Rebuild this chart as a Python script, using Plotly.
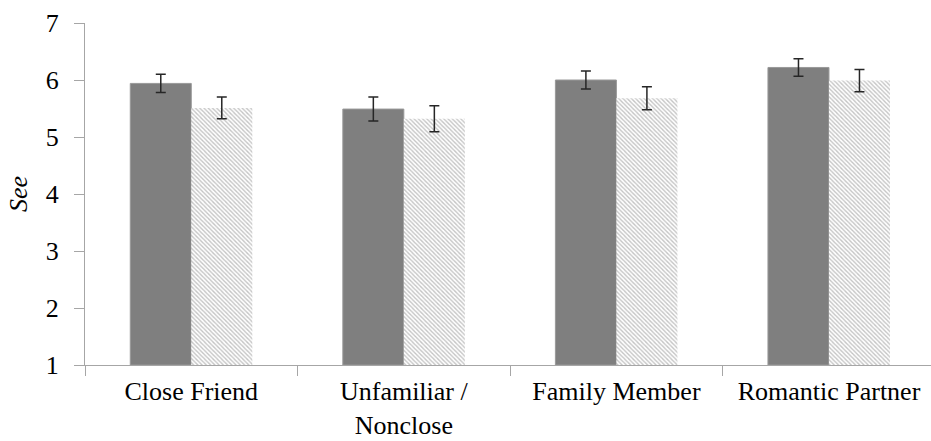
import plotly.graph_objects as go

categories = ["Close Friend", "Unfamiliar /<br>Nonclose", "Family Member", "Romantic Partner"]
solid_values = [5.94, 5.49, 6.00, 6.22]
solid_errors = [0.16, 0.21, 0.16, 0.155]
hatched_values = [5.51, 5.32, 5.68, 5.99]
hatched_errors = [0.19, 0.23, 0.20, 0.195]
y_ticks = [1, 2, 3, 4, 5, 6, 7]

axis_gray = "#a6a6a6"
err_color = "#262626"
font_family = "Times New Roman, Liberation Serif, DejaVu Serif, serif"

fig = go.Figure()

fig.add_trace(go.Bar(
    x=categories,
    y=[v - 1 for v in solid_values],
    base=1,
    marker=dict(color="#7f7f7f", line=dict(color="#999999", width=1)),
    error_y=dict(type="data", array=solid_errors, color=err_color, thickness=1.5, width=5),
    showlegend=False,
))

fig.add_trace(go.Bar(
    x=categories,
    y=[v - 1 for v in hatched_values],
    base=1,
    marker=dict(
        color="white",
        line=dict(width=0),
        pattern=dict(shape="\\", fgcolor="#8a8a8a", bgcolor="white", size=3, solidity=0.45),
    ),
    error_y=dict(type="data", array=hatched_errors, color=err_color, thickness=1.5, width=5),
    showlegend=False,
))

fig.update_layout(
    width=931,
    height=441,
    margin=dict(l=85, r=0, t=23, b=76),
    paper_bgcolor="white",
    plot_bgcolor="white",
    barmode="group",
    bargap=0.426,
    bargroupgap=0,
    font=dict(family=font_family, size=26, color="black"),
)

fig.update_xaxes(
    range=[-0.5, 3.48],
    automargin=False,
    showline=True,
    linecolor=axis_gray,
    linewidth=1.2,
    ticks="outside",
    tickson="boundaries",
    ticklen=10,
    tickcolor=axis_gray,
    tickwidth=1.2,
    ticklabelstandoff=3,
    showgrid=False,
    zeroline=False,
    tickfont=dict(family=font_family, size=26, color="black"),
)

fig.update_yaxes(
    range=[1, 7],
    automargin=False,
    tickvals=y_ticks,
    showline=True,
    linecolor=axis_gray,
    linewidth=1.2,
    ticks="outside",
    ticklen=10,
    tickcolor=axis_gray,
    tickwidth=1.2,
    ticklabelstandoff=10,
    showgrid=False,
    zeroline=False,
    tickfont=dict(family=font_family, size=26, color="black"),
    title=dict(text="<i>See</i>", font=dict(family=font_family, size=26, color="black"), standoff=10),
)

fig.write_html("out.html")
